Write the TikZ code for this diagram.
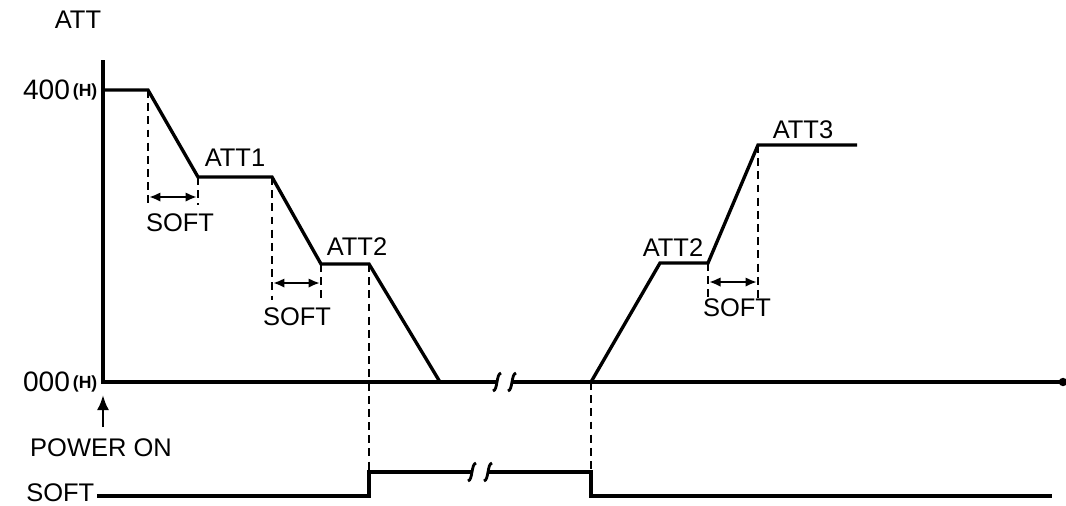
\documentclass[tikz,border=0pt]{standalone}
\usepackage{fontspec}
\setmainfont{Liberation Sans}
\usetikzlibrary{arrows.meta, positioning}

\newcommand{\hexunit}{\raisebox{2pt}{\fontsize{10}{10}\selectfont\bfseries\,(H)}}

\begin{document}
\begin{tikzpicture}[x=0.02cm, y=-0.02cm, thick]

			% Define style for signal lines
			\tikzstyle{wave} = [line width=1.9pt, line join=miter]
			\tikzstyle{guide} = [line width=1.1pt, dash pattern=on 4.5pt off 3pt]
			\tikzstyle{softspan} = [line width=1.3pt, {Latex[length=2.3mm,width=1.9mm]}-{Latex[length=2.3mm,width=1.9mm]}]
			\tikzstyle{tag} = [inner sep=0pt, font=\fontsize{14.5}{16}\selectfont]

			\useasboundingbox (0,0) rectangle (1066,505);

			% Place points of the ATT curve
			\coordinate (top) at (103,60);
			\coordinate (orig) at (103,382);
			\coordinate (axend) at (1063,382);
			\coordinate (w0) at (103,90);
			\coordinate (w1) at (148,90);
			\coordinate (w2) at (198,177);
			\coordinate (w3) at (272,177);
			\coordinate (w4) at (321,264);
			\coordinate (w5) at (369,264);
			\coordinate (w6) at (440,382);
			\coordinate (r0) at (591,382);
			\coordinate (r1) at (660,263);
			\coordinate (r2) at (708,263);
			\coordinate (r3) at (758,145);
			\coordinate (r4) at (857,145);
			\coordinate (b1) at (497,382);
			\coordinate (b2) at (512,382);

			% Place points of the SOFT signal
			\coordinate (s0) at (97,496);
			\coordinate (s1) at (369,496);
			\coordinate (s2) at (369,472);
			\coordinate (b3) at (472,472);
			\coordinate (b4) at (488,472);
			\coordinate (s5) at (591,472);
			\coordinate (s6) at (591,496);
			\coordinate (s7) at (1052,496);

			% Feet of the dashed lines
			\coordinate (d1) at (148,205);
			\coordinate (d2) at (198,205);
			\coordinate (d3) at (272,300);
			\coordinate (d4) at (321,300);
			\coordinate (d7) at (708,300);
			\coordinate (d8) at (758,300);

			% Ends of the SOFT arrows
			\coordinate (sa1) at (149,197);
			\coordinate (sb1) at (197,197);
			\coordinate (sa2) at (273,283);
			\coordinate (sb2) at (320,283);
			\coordinate (sa3) at (709,282);
			\coordinate (sb3) at (757,282);

			% Place labels
			\node [tag] (att) at (78,20) {ATT};
			\node [tag, anchor=east] (hi) at (98,90) {\fontsize{16}{16}\selectfont 400\hexunit};
			\node [tag, anchor=east] (lo) at (98,382) {\fontsize{16}{16}\selectfont 000\hexunit};
			\node [tag] (att1) at (235,158) {ATT1};
			\node [tag] (att2a) at (357,247) {ATT2};
			\node [tag] (att2b) at (673,248) {ATT2};
			\node [tag] (att3) at (803,130) {ATT3};
			\node [tag] (soft1) at (180,223) {SOFT};
			\node [tag] (soft2) at (297,317) {SOFT};
			\node [tag] (soft3) at (737,308) {SOFT};
			\node [tag] (pwr) at (101,448) {POWER ON};
			\node [tag, anchor=east] (softsig) at (95,493) {SOFT};
			\coordinate (pwrtail) at (103,427);
			\coordinate (pwrtip) at (103,395);

			% Draw axes
			\draw [wave] (top) -- (orig) -- (b1);
			\draw [wave] (b2) -- (axend);
			\fill (axend) circle (2.4pt);

			% Draw ATT curve
			\draw [wave] (w0) -- (w1) -- (w2) -- (w3) -- (w4) -- (w5) -- (w6);
			\draw [wave] (r0) -- (r1) -- (r2) -- (r3) -- (r4);

			% Draw SOFT signal
			\draw [wave] (s0) -- (s1) -- (s2) -- (b3);
			\draw [wave] (b4) -- (s5) -- (s6) -- (s7);

			% Break marks
			\foreach \b in {b1, b2, b3, b4}
				\draw [line width=1.6pt, shift={(\b)}] (-4,9) .. controls (1,8) and (-1,-8) .. (4,-9);

			% Dashed lines
			\foreach \a/\b in {w1/d1, w2/d2, w3/d3, w4/d4, w5/s2, r0/s5, r2/d7, r3/d8}
				\draw [guide] (\a) -- (\b);

			% SOFT arrows
			\foreach \a/\b in {sa1/sb1, sa2/sb2, sa3/sb3}
				\draw [softspan] (\a) -- (\b);

			% Power on arrow
			\draw [line width=1.4pt, -{Latex[length=3mm,width=2.4mm]}] (pwrtail) -- (pwrtip);
		\end{tikzpicture}
\end{document}
